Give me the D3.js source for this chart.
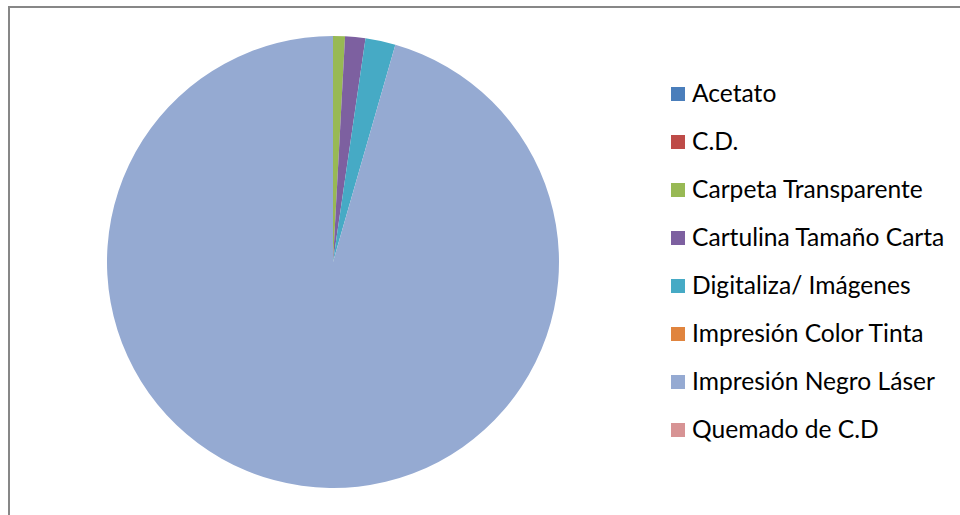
<!DOCTYPE html>
<html>
<head>
<meta charset="utf-8">
<script src="https://cdn.jsdelivr.net/npm/d3@7/dist/d3.min.js"></script>
<style>
  body { margin: 0; background: #fff; }
  svg { display: block; }
  .legend text { font-family: Lato, "Open Sans", sans-serif; font-size: 24.6px; fill: #000; }
</style>
</head>
<body>
<script>
// categories and values (share of total)
var categories = [
    "Acetato",
    "C.D.",
    "Carpeta Transparente",
    "Cartulina Tamaño Carta",
    "Digitaliza/ Imágenes",
    "Impresión Color Tinta",
    "Impresión Negro Láser",
    "Quemado de C.D"
];
var values = [0, 0, 0.85, 1.45, 2.15, 0, 95.55, 0];

// office style palette
var colours = ["#4a7ebb", "#be4b48", "#98b954", "#7d60a0", "#46aac5", "#e0843e", "#95aad2", "#d79394"];

var width = 960, height = 515;

var svg = d3.select("body")
    .append("svg")
    .attr("width", width)
    .attr("height", height);

// chart frame, only left and top edges are inside the window
svg.append("rect")
    .attr("x", 9)
    .attr("y", 7)
    .attr("width", 1000)
    .attr("height", 600)
    .attr("fill", "none")
    .attr("stroke", "#878787")
    .attr("stroke-width", 2);

var data = categories.map(function (c, i) {
    return { name: c, value: values[i], colour: colours[i] };
});

var pie = d3.pie()
    .sort(null)
    .value(function (d) { return d.value; });

var arc = d3.arc()
    .innerRadius(0)
    .outerRadius(226);

var pieGroup = svg.append("g")
    .attr("transform", "translate(333,262)");

pieGroup.selectAll("path")
    .data(pie(data).filter(function (d) { return d.data.value > 0; }))
    .enter()
    .append("path")
    .attr("d", arc)
    .attr("fill", function (d) { return d.data.colour; });

// legend
var legendY = d3.scalePoint()
    .domain(categories)
    .range([94, 430]);

var legend = svg.append("g")
    .attr("class", "legend")
    .selectAll("g")
    .data(data)
    .enter()
    .append("g")
    .attr("transform", function (d) { return "translate(671," + legendY(d.name) + ")"; });

legend.append("rect")
    .attr("x", 0)
    .attr("y", -7)
    .attr("width", 14)
    .attr("height", 14)
    .attr("fill", function (d) { return d.colour; });

legend.append("text")
    .attr("x", 21)
    .attr("y", 0)
    .attr("dy", "0.33em")
    .text(function (d) { return d.name; });
</script>
</body>
</html>
